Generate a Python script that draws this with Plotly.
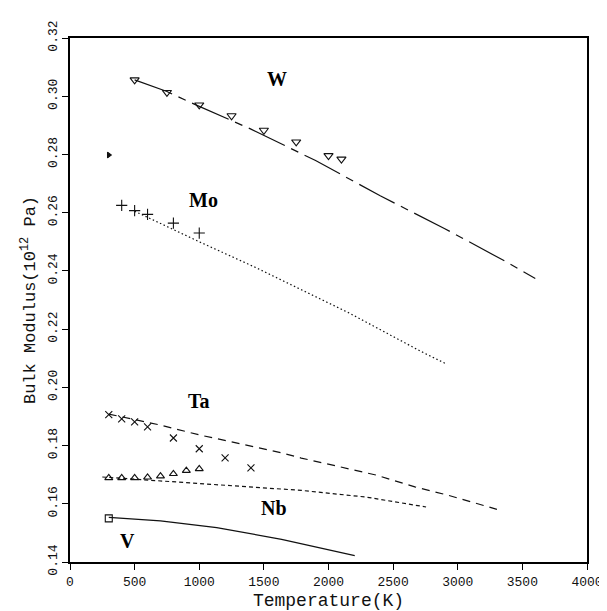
import plotly.graph_objects as go

# ---- data ----
w_marker_T = [500, 750, 1000, 1250, 1500, 1750, 2000, 2100]
w_marker_B = [0.3056, 0.3013, 0.2970, 0.2933, 0.2883, 0.2843, 0.2796, 0.2784]
w_line_T = [500, 750, 1000, 1400, 1900, 2400, 2900, 3400, 3600]
w_line_B = [0.3056, 0.3016, 0.2965, 0.2887, 0.2779, 0.2658, 0.2545, 0.2425, 0.2374]
w_single_T = [300]
w_single_B = [0.2798]

mo_marker_T = [400, 500, 600, 800, 1000]
mo_marker_B = [0.2625, 0.2607, 0.2594, 0.2564, 0.2530]
mo_line_T = [500, 1000, 1425, 2165, 2717, 2900]
mo_line_B = [0.2605, 0.2500, 0.2414, 0.2254, 0.2123, 0.2083]

ta_marker_T = [300, 400, 500, 600, 800, 1000, 1200, 1400]
ta_marker_B = [0.1906, 0.1892, 0.1881, 0.1864, 0.1826, 0.1789, 0.1758, 0.1723]
ta_line_T = [300, 683, 997, 1637, 1789, 2215, 2366, 2668, 2919, 3303]
ta_line_B = [0.1908, 0.1872, 0.1837, 0.1775, 0.1757, 0.1716, 0.1699, 0.1658, 0.1630, 0.1581]

nb_marker_T = [300, 400, 500, 600, 700, 800, 900, 1000]
nb_marker_B = [0.1689, 0.1689, 0.1689, 0.1691, 0.1695, 0.1703, 0.1714, 0.1720]
nb_line_T = [250, 1135, 1789, 2291, 2755]
nb_line_B = [0.1692, 0.1666, 0.1646, 0.1623, 0.1589]

v_marker_T = [300]
v_marker_B = [0.1550]
v_line_T = [300, 700, 1135, 1637, 2203]
v_line_B = [0.1553, 0.1541, 0.1518, 0.1478, 0.1422]

label_text = ["W", "Mo", "Ta", "Nb", "V"]
label_T = [1600, 1034, 997, 1575, 445]
label_B = [0.3060, 0.2645, 0.1952, 0.1584, 0.1473]

x_ticks = [0, 500, 1000, 1500, 2000, 2500, 3000, 3500, 4000]
y_ticks = [0.14, 0.16, 0.18, 0.20, 0.22, 0.24, 0.26, 0.28, 0.30, 0.32]

fig = go.Figure()
lc = "#111111"

def line(x, y, dash):
    fig.add_trace(go.Scatter(x=x, y=y, mode="lines",
                             line=dict(color=lc, width=1.2, dash=dash),
                             showlegend=False, hoverinfo="skip"))

def marks(x, y, symbol, size=7):
    fig.add_trace(go.Scatter(x=x, y=y, mode="markers",
                             marker=dict(symbol=symbol, size=size, color=lc,
                                         line=dict(color=lc, width=1.1)),
                             showlegend=False))

line(w_line_T, w_line_B, "40px,7px,8px,7px")
line(mo_line_T, mo_line_B, "1.5px,2.5px")
line(ta_line_T, ta_line_B, "8px,6px")
line(nb_line_T, nb_line_B, "4px,3px")
line(v_line_T, v_line_B, "solid")

marks(w_marker_T, w_marker_B, "triangle-down-open", 8)
marks(w_single_T, w_single_B, "triangle-right", 5)
marks(mo_marker_T, mo_marker_B, "cross-thin-open", 8)
marks(ta_marker_T, ta_marker_B, "x-thin-open", 7)
marks(nb_marker_T, nb_marker_B, "triangle-up-open", 7)
marks(v_marker_T, v_marker_B, "square-open", 7)

for t, x, y in zip(label_text, label_T, label_B):
    fig.add_annotation(x=x, y=y, text="<b>%s</b>" % t, showarrow=False,
                       font=dict(family="Liberation Serif", size=20, color="#000000"))

tickfont = dict(family="Liberation Mono", size=13, color="#111111")
fig.update_layout(
    width=607, height=611,
    margin=dict(l=62, r=16, t=28, b=57),
    paper_bgcolor="white", plot_bgcolor="white",
    xaxis=dict(range=[0, 4000], tickvals=x_ticks, ticktext=[str(v) for v in x_ticks],
               showgrid=False, zeroline=False, showline=True, linecolor="#000000",
               linewidth=2, mirror=True, ticks="outside", ticklen=6, tickwidth=1.2,
               tickcolor="#000000", tickfont=tickfont,
               title=dict(text="Temperature(K)", standoff=5,
                          font=dict(family="Liberation Mono", size=18, color="#111111"))),
    yaxis=dict(range=[0.14, 0.32], tickvals=y_ticks, ticktext=["%.2f" % v for v in y_ticks],
               tickangle=-90,
               showgrid=False, zeroline=False, showline=True, linecolor="#000000",
               linewidth=2, mirror=True, ticks="outside", ticklen=6, tickwidth=1.2,
               tickcolor="#000000", tickfont=tickfont,
               title=dict(text="Bulk Modulus(10<sup>12</sup> Pa)", standoff=6,
                          font=dict(family="Liberation Mono", size=17, color="#111111"))),
)

fig.write_html("out.html")
